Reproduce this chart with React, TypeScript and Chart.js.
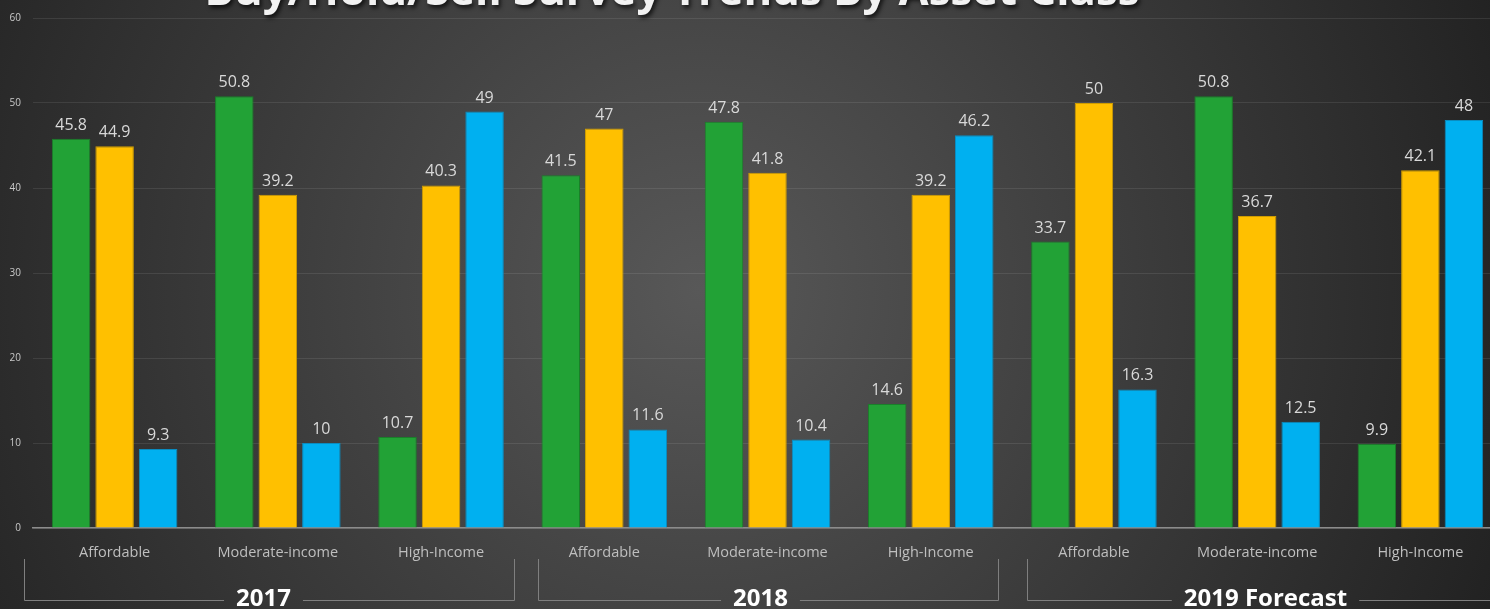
import React, { useEffect, useRef } from "react";
import { Chart, registerables } from "chart.js";

Chart.register(...registerables);

const titleText = "Buy/Hold/Sell Survey Trends By Asset Class";
const categories = [
  "Affordable", "Moderate-income", "High-Income",
  "Affordable", "Moderate-income", "High-Income",
  "Affordable", "Moderate-income", "High-Income",
];
const years = ["2017", "2018", "2019 Forecast"];
const seriesNames = ["Buy", "Hold", "Sell"];
const buyValues = [45.8, 50.8, 10.7, 41.5, 47.8, 14.6, 33.7, 50.8, 9.9];
const holdValues = [44.9, 39.2, 40.3, 47, 41.8, 39.2, 50, 36.7, 42.1];
const sellValues = [9.3, 10, 49, 11.6, 10.4, 46.2, 16.3, 12.5, 48];
const yMin = 0;
const yMax = 60;
const yStep = 10;

const FONT = "'Open Sans', 'Noto Sans', sans-serif";

const backgroundPlugin = {
  id: "bgGradient",
  beforeDraw(chart: any) {
    const { ctx, width, height } = chart;
    ctx.save();
    const g = ctx.createRadialGradient(700, 290, 0, 700, 290, 850);
    g.addColorStop(0, "#585858");
    g.addColorStop(0.55, "#3a3a3a");
    g.addColorStop(1, "#222222");
    ctx.fillStyle = g;
    ctx.fillRect(0, 0, width, height);
    ctx.restore();
  },
};

const valueLabelPlugin = {
  id: "valueLabels",
  afterDatasetsDraw(chart: any) {
    const { ctx } = chart;
    ctx.save();
    ctx.font = `16px ${FONT}`;
    ctx.fillStyle = "#d9d9d9";
    ctx.textAlign = "center";
    ctx.textBaseline = "alphabetic";
    chart.data.datasets.forEach((ds: any, di: number) => {
      const meta = chart.getDatasetMeta(di);
      meta.data.forEach((el: any, i: number) => {
        ctx.fillText(String(ds.data[i]), el.x, el.y - 9);
      });
    });
    ctx.restore();
  },
};

const decorPlugin = {
  id: "decor",
  afterDraw(chart: any) {
    const { ctx } = chart;
    const xs = chart.scales.x;
    ctx.save();
    ctx.font = `bold 40px ${FONT}`;
    const w = ctx.measureText(titleText).width;
    const size = 40 * (935 / w);
    ctx.font = `bold ${size}px ${FONT}`;
    ctx.fillStyle = "#f2f2f2";
    ctx.textAlign = "center";
    ctx.textBaseline = "alphabetic";
    ctx.shadowColor = "rgba(0,0,0,0.7)";
    ctx.shadowBlur = 4;
    ctx.shadowOffsetX = 2;
    ctx.shadowOffsetY = 3;
    ctx.fillText(titleText, 672, 5);
    ctx.restore();

    ctx.save();
    const cat = xs.getPixelForValue(1) - xs.getPixelForValue(0);
    const leftInset = [-9, 15, 15];
    const rightInset = [9, 14, 9];
    const textShift = [-6, -8, 5];
    ctx.strokeStyle = "#7f7f7f";
    ctx.lineWidth = 1;
    ctx.font = `bold 24px ${FONT}`;
    ctx.fillStyle = "#ffffff";
    ctx.textAlign = "center";
    ctx.textBaseline = "alphabetic";
    const yTop = 559;
    const yLine = 600.5;
    years.forEach((yr, g) => {
      const L = xs.getPixelForValue(3 * g) - cat / 2;
      const R = xs.getPixelForValue(3 * g + 2) + cat / 2;
      const left = Math.round(L + leftInset[g]) + 0.5;
      const right = Math.round(R - rightInset[g]) + 0.5;
      const cx = (left + right) / 2 + textShift[g];
      const tw = ctx.measureText(yr).width;
      ctx.beginPath();
      ctx.moveTo(left, yTop);
      ctx.lineTo(left, yLine);
      ctx.lineTo(cx - tw / 2 - 12, yLine);
      ctx.moveTo(cx + tw / 2 + 12, yLine);
      ctx.lineTo(right, yLine);
      ctx.lineTo(right, yTop);
      ctx.stroke();
      ctx.fillText(yr, cx, 606);
    });
    ctx.restore();
  },
};

export default function App() {
  const canvasRef = useRef<HTMLCanvasElement | null>(null);

  useEffect(() => {
    if (!canvasRef.current) return;
    const mk = (label: string, data: number[], bg: string, border: string) => ({
      label,
      data,
      backgroundColor: bg,
      borderColor: border,
      borderWidth: 1,
      barPercentage: 0.885,
      categoryPercentage: 0.8,
    });
    const chart = new Chart(canvasRef.current, {
      type: "bar",
      data: {
        labels: categories,
        datasets: [
          mk(seriesNames[0], buyValues, "#22a236", "#1a7f2a"),
          mk(seriesNames[1], holdValues, "#ffc000", "#cf9c00"),
          mk(seriesNames[2], sellValues, "#00b0f0", "#0a8cc0"),
        ],
      },
      options: {
        responsive: false,
        animation: false,
        devicePixelRatio: 1,
        layout: { padding: { top: 17, left: 0, right: 0, bottom: 0 } },
        plugins: {
          legend: { display: false },
          title: { display: false },
          tooltip: { enabled: false },
        },
        scales: {
          x: {
            grid: { display: false, drawTicks: false },
            border: { display: true, color: "#8c8c8c", width: 1.5 },
            ticks: {
              color: "#bfbfbf",
              font: { family: FONT, size: 14.5 },
              padding: 16,
              maxRotation: 0,
              autoSkip: false,
            },
            afterFit(scale: any) {
              scale.height = 81;
            },
          },
          y: {
            min: yMin,
            max: yMax,
            grid: { color: "rgba(255,255,255,0.09)", drawTicks: false },
            border: { display: false },
            ticks: {
              stepSize: yStep,
              color: "#c8c8c8",
              font: { family: FONT, size: 10 },
              padding: 12,
            },
            afterFit(scale: any) {
              scale.width = 33;
            },
          },
        },
      },
      plugins: [backgroundPlugin, valueLabelPlugin, decorPlugin],
    });
    return () => chart.destroy();
  }, []);

  return (
    <div
      style={{
        position: "fixed",
        left: 0,
        top: 0,
        width: 1490,
        height: 609,
        overflow: "hidden",
        background: "#2a2a2a",
      }}
    >
      <canvas
        ref={canvasRef}
        width={1502}
        height={609}
        style={{ display: "block", width: 1502, height: 609 }}
      />
    </div>
  );
}
